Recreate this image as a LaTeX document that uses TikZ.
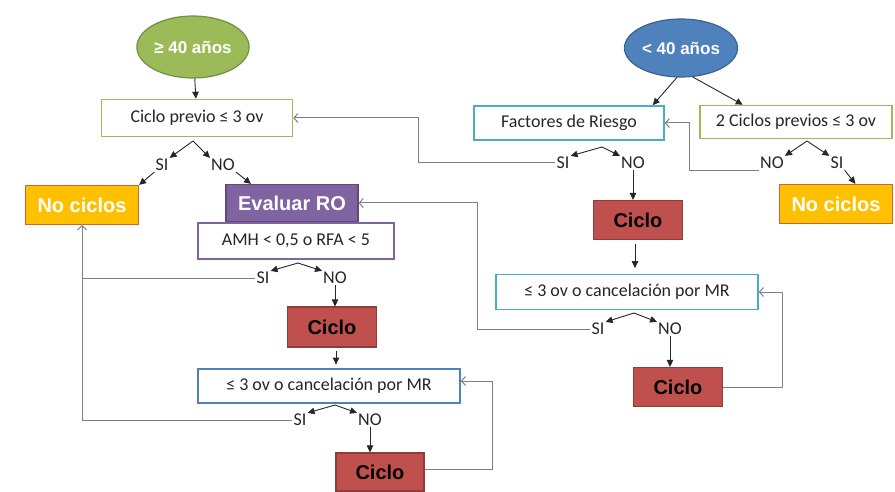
\documentclass[tikz,border=0pt]{standalone}
\usepackage{fontspec}
\setmainfont{Carlito}
\newfontfamily\headfont{Liberation Sans}
\usetikzlibrary{shapes.geometric, arrows.meta}

\definecolor{oldgreen}{HTML}{9BBB59}
\definecolor{youngblue}{HTML}{4F81BD}
\definecolor{riskcyan}{HTML}{4BACC6}
\definecolor{evalpurple}{HTML}{8064A2}
\definecolor{cycred}{HTML}{C0504D}
\definecolor{stoporange}{HTML}{FFC000}
\definecolor{stopedge}{HTML}{D2603A}
\definecolor{darktxt}{HTML}{262626}
\definecolor{linegray}{HTML}{7F7F7F}

\begin{document}
\begin{tikzpicture}[x=1pt, y=-1pt,
    every node/.style={inner sep=1pt},
    age/.style={ellipse, draw=#1!75!black, fill=#1, line width=1.2pt, minimum width=110pt, minimum height=62pt, text=white, font=\headfont\bfseries\fontsize{17}{19}\selectfont},
    qbox/.style={rectangle, draw=#1, line width=1.6pt, fill=white, minimum height=35pt, text=darktxt, font=\fontsize{18}{21}\selectfont},
    act/.style={rectangle, draw=#1!75!black, fill=#1, line width=1.2pt, minimum height=39pt, font=\headfont\bfseries\fontsize{20}{24}\selectfont},
    stopbox/.style={rectangle, draw=stopedge, fill=stoporange, line width=1.2pt, minimum width=113pt, minimum height=39pt, text=white, font=\headfont\bfseries\fontsize{20}{24}\selectfont},
    ans/.style={text=darktxt, font=\fontsize{18}{21}\selectfont},
    br/.style={-{Triangle[length=7pt,width=6.5pt]}, line width=0.9pt, black!85},
    fb/.style={-{Straight Barb[length=4pt,width=9pt]}, line width=1pt, linegray},
  ]
  \useasboundingbox (0,0) rectangle (895,492);

  % Age groups
  \node[age=oldgreen] (ge40) at (193,47) {≥ 40 años};
  \node[age=youngblue, minimum width=108pt, minimum height=58pt] (lt40) at (681,48) {< 40 años};

  % Questions
  \node[qbox=oldgreen, minimum width=191pt, minimum height=37pt] (q1) at (197,118) {Ciclo previo ≤ 3 ov};
  \node[qbox=riskcyan, minimum width=190pt, minimum height=34pt] (fr) at (569,123) {Factores de Riesgo};
  \node[qbox=oldgreen, minimum width=192pt, minimum height=33pt] (q2) at (796,122) {2 Ciclos previos ≤ 3 ov};
  \node[qbox=evalpurple, minimum width=196pt, minimum height=36pt] (amh) at (296,241) {AMH < 0,5 o RFA < 5};
  \node[qbox=youngblue, minimum width=262pt, minimum height=34pt] (q3) at (329,386) {≤ 3 ov o cancelación por MR};
  \node[qbox=riskcyan, minimum width=262pt, minimum height=35pt] (q4) at (627,292) {≤ 3 ov o cancelación por MR};

  % Actions
  \node[stopbox] (noc1) at (82,205) {No ciclos};
  \node[stopbox] (noc2) at (836,204) {No ciclos};
  \node[act=evalpurple, text=white, minimum width=132pt, minimum height=37pt] (ev) at (292,203) {Evaluar RO};
  \node[act=cycred, text=black, minimum width=89pt] (cy1) at (638,220) {Ciclo};
  \node[act=cycred, text=black, minimum width=89pt, minimum height=40pt] (cy2) at (332,327) {Ciclo};
  \node[act=cycred, text=black, minimum width=88pt, minimum height=38pt] (cy3) at (380,472) {Ciclo};
  \node[act=cycred, text=black, minimum width=89pt] (cy4) at (678,387) {Ciclo};

  % Answers
  \node[ans] (si1) at (162,165) {SI};
  \node[ans] (no1) at (223,165) {NO};
  \node[ans] (si2) at (563,163) {SI};
  \node[ans] (no2) at (633,163) {NO};
  \node[ans] (no3) at (772,163) {NO};
  \node[ans] (si3) at (837,163) {SI};
  \node[ans] (si4) at (263,278) {SI};
  \node[ans] (no4) at (335,278) {NO};
  \node[ans] (si5) at (300,420) {SI};
  \node[ans] (no5) at (370,420) {NO};
  \node[ans] (si6) at (598,329) {SI};
  \node[ans] (no6) at (670,329) {NO};

  % Forks
  \coordinate (f1) at (193,141);
  \coordinate (f2) at (602,147);
  \coordinate (f3) at (807,141);
  \coordinate (f4) at (298,263);
  \coordinate (f5) at (335,405);
  \coordinate (f6) at (634,313);

  % Main arrows
  \draw[br] (ge40) -- (q1);
  \draw[br] (lt40.262) -- (fr.12);
  \draw[br] (lt40.292) -- (q2.162);

  \draw[br] (f1) -- (si1.north east);
  \draw[br] (f1) -- (no1.north west);
  \draw[br] (si1.south west) -- (noc1.north east);
  \draw[br] (no1.south east) -- (ev.155);

  \draw[br] (f2) -- (si2.north east);
  \draw[br] (f2) -- (no2.north west);
  \draw[br] (no2.south) -- (no2.south |- cy1.north);
  \draw[br] (cy1.south) ++(-3,4) -- ++(0,24);

  \draw[br] (f3) -- (no3.north east);
  \draw[br] (f3) -- (si3.north west);
  \draw[br] (si3.south east) -- (noc2.46);

  \draw[br] (f4) -- (si4.north east);
  \draw[br] (f4) -- (no4.north west);
  \draw[br] (no4.south) -- (no4.south |- cy2.north);
  \draw[br] (cy2.south) ++(4,3) -- ++(0,14);

  \draw[br] (f5) -- (si5.north east);
  \draw[br] (f5) -- (no5.north west);
  \draw[br] (no5.south) -- (no5.south |- cy3.north);

  \draw[br] (f6) -- (si6.north east);
  \draw[br] (f6) -- (no6.north west);
  \draw[br] (no6.south) -- (no6.south |- cy4.north);

  % Feedback lines
  \draw[fb] (si2.west) -- ++(-137,0) |- (q1.east);
  \draw[fb] (no3.south west) -- ++(-70,0) |- (fr.east);
  \draw[fb] (si6.west) -- ++(-113,0) |- (ev.east);
  \draw[fb] (si4.west) -| (noc1.south);
  \draw[line width=1pt, linegray] (si5.west) -| (si4.west -| noc1.south);
  \draw[fb] (cy4.east) -- ++(59,0) |- (q4.east);
  \draw[fb] (cy3.east) ++(0,-3) -- ++(68,0) |- ([yshift=5pt]q3.east);
\end{tikzpicture}
\end{document}
